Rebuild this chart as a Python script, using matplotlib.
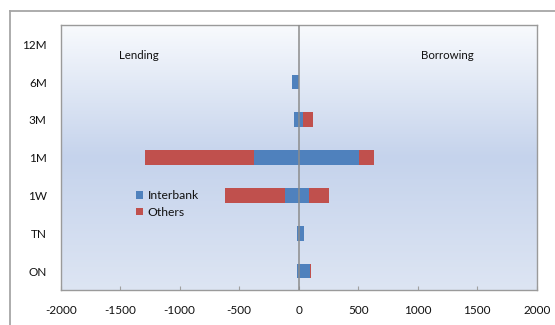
import matplotlib
matplotlib.use("Agg")
import matplotlib.pyplot as plt
import numpy as np
from matplotlib.colors import LinearSegmentedColormap
from matplotlib.lines import Line2D
from matplotlib.patches import Patch

plt.rcParams['font.family'] = ['Lato', 'DejaVu Sans']

# Tenors from shortest to longest (bottom to top)
categories = ['ON', 'TN', '1W', '1M', '3M', '6M', '12M']

# Lending (negative side)
lend_interbank = [-11, -12, -112, -372, -36, -53, 0]
lend_others = [-6, -5, -510, -916, 0, 0, 0]

# Borrowing (positive side)
borrow_interbank = [98, 42, 84, 510, 37, 0, 0]
borrow_others = [5, 6, 168, 121, 87, 0, 0]

xticks = [-2000, -1500, -1000, -500, 0, 500, 1000, 1500, 2000]

BLUE = '#4f81bd'
RED = '#c0504d'
TEXT = '#111111'

W, H = 555, 325
fig = plt.figure(figsize=(W / 100, H / 100), dpi=100)
fig.patch.set_facecolor('white')

# chart frame
fig.add_artist(Line2D([9.5 / W, 9.5 / W], [0, 1 - 10.5 / H], transform=fig.transFigure,
                      color='#a6a6a6', lw=1.3))
fig.add_artist(Line2D([9.5 / W, 1], [1 - 10.5 / H, 1 - 10.5 / H], transform=fig.transFigure,
                      color='#a6a6a6', lw=1.3))

left, right, top, bottom = 60.7, 536.7, 25.3, 290.0
ax = fig.add_axes([left / W, 1 - bottom / H, (right - left) / W, (bottom - top) / H])

# gradient plot-area fill
cmap = LinearSegmentedColormap.from_list(
    'bg', [(0.0, '#dde5f3'), (0.5, '#c5d3ec'), (1.0, '#f8fafd')])
grad = np.linspace(0, 1, 256).reshape(-1, 1)
ax.imshow(grad, aspect='auto', cmap=cmap, origin='lower',
          extent=[0, 1, 0, 1], transform=ax.transAxes, zorder=0)

y = np.arange(len(categories))
h = 0.39
li = np.array(lend_interbank)
lo = np.array(lend_others)
bi = np.array(borrow_interbank)
bo = np.array(borrow_others)

ax.barh(y, li, height=h, color=BLUE, zorder=2)
ax.barh(y, lo, left=li, height=h, color=RED, zorder=2)
ax.barh(y, bi, height=h, color=BLUE, zorder=2)
ax.barh(y, bo, left=bi, height=h, color=RED, zorder=2)

ax.axvline(0, color='#8c8c8c', lw=1.1, zorder=3)

ax.set_xlim(-2000, 2000)
ax.set_ylim(-0.5, len(categories) - 0.5)
ax.set_xticks(xticks)
ax.set_xticklabels([str(t) for t in xticks])
ax.set_yticks(y)
ax.set_yticklabels(categories)
ax.tick_params(axis='x', direction='in', length=3, color='#a0a0a0', width=0.8,
               labelsize=8.5, labelcolor=TEXT, pad=11)
ax.tick_params(axis='y', length=0, labelsize=8.5, labelcolor=TEXT, pad=10)
for s in ax.spines.values():
    s.set_color('#9a9a9a')
    s.set_linewidth(1.0)

ax.text(0.122, 0.885, 'Lending', transform=ax.transAxes, fontsize=8.3,
        color=TEXT, va='center', ha='left')
ax.text(0.756, 0.885, 'Borrowing', transform=ax.transAxes, fontsize=8.3,
        color=TEXT, va='center', ha='left')

handles = [Patch(facecolor=BLUE, edgecolor='none', label='Interbank'),
           Patch(facecolor=RED, edgecolor='none', label='Others')]
ax.legend(handles=handles, loc='upper left', bbox_to_anchor=(0.158, 0.377),
          frameon=False, fontsize=8.7, handlelength=0.6, handleheight=0.6,
          handletextpad=0.35, labelspacing=0.45, borderpad=0, borderaxespad=0,
          labelcolor=TEXT)

fig.savefig('out.png', dpi=100, facecolor='white')
